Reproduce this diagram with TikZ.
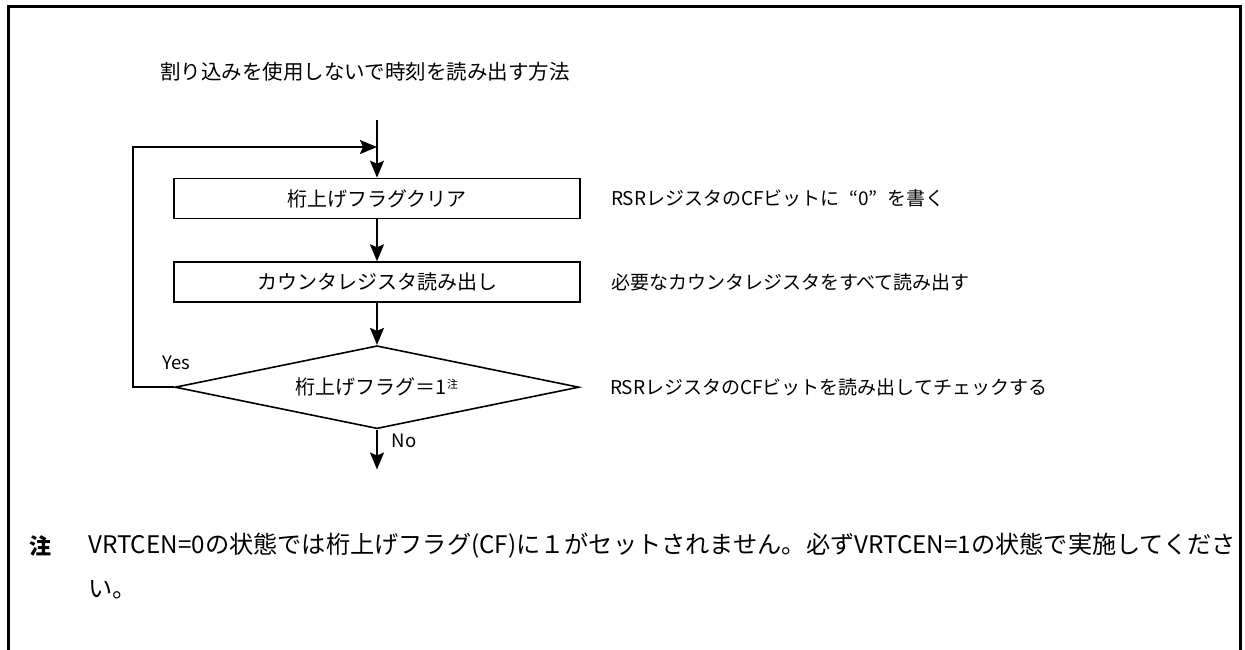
\documentclass[tikz,border=0pt]{standalone}
\usepackage{fontspec}
\setmainfont{Noto Sans CJK JP}
\usepackage{tikz}
\usetikzlibrary{arrows.meta,positioning,shapes.geometric}

\begin{document}
\begin{tikzpicture}[x=1pt,y=-1pt,node distance=42pt and 30pt,
  every node/.style={font=\fontsize{20}{24}\selectfont,inner sep=0pt},
  box/.style={draw,line width=1.6pt,minimum width=406pt,minimum height=40pt},
  cond/.style={draw,diamond,aspect=4.87,line width=1.6pt,minimum width=404pt,minimum height=83pt},
  arr/.style={-{Stealth[length=17pt,width=14pt,inset=3pt]},line width=1.9pt},
  side/.style={font=\fontsize{19}{22}\selectfont,anchor=west},
  lbl/.style={font=\fontsize{18.5}{22}\selectfont},
  note/.style={font=\fontsize{24.2}{28}\selectfont,anchor=west}]
\useasboundingbox (0,0) rectangle (1245,650);
% frame
\draw[line width=3pt] (8.5,650) -- (8.5,6.5) -- (1240.5,6.5) -- (1240.5,650);
\node[anchor=west,font=\fontsize{20.5}{24}\selectfont] (title) at (160,72) {割り込みを使用しないで時刻を読み出す方法};
% flow
\coordinate (start) at (377,120);
\coordinate (merge) at (377,147);
\node[box] (clr) at (377,198.5) {桁上げフラグクリア};
\node[box,below=of clr] (rd) {カウンタレジスタ読み出し};
\node[cond,below=of rd] (chk) {桁上げフラグ＝1\raisebox{6pt}{\fontsize{11}{11}\selectfont 注}};
\coordinate[below=40pt of chk] (stop);
\node[side,right=of clr] (clrtxt) {RSRレジスタのCFビットに\hspace{0.5em}“0”\hspace{0.5em}を書く};
\node[side,right=of rd] (rdtxt) {必要なカウンタレジスタをすべて読み出す};
\node[side,right=of chk] (chktxt) {RSRレジスタのCFビットを読み出してチェックする};
\draw[arr] (start) -- (clr);
\draw[arr] (clr) -- (rd);
\draw[arr] (rd) -- (chk);
\draw[arr] (chk) -- (stop);
\draw[arr] (chk.west) -- ++(-41,0) |- (merge);
\node[lbl] (yes) at (176,363) {Yes};
\node[lbl] (no) at (404,441) {No};
% note
\node[font=\fontsize{22}{24}\bfseries] (mark) at (40,546) {注};
\node[note] (n1) at (88,546) {VRTCEN=0の状態では桁上げフラグ(CF)に１がセットされません。必ずVRTCEN=1の状態で実施してくださ};
\node[note] (n2) at (88,590) {い。};
\end{tikzpicture}
\end{document}
